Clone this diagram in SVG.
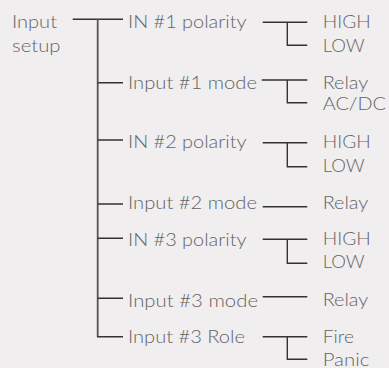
<svg xmlns="http://www.w3.org/2000/svg" width="389" height="368" viewBox="0 0 389 368">
<style>
text{font-family:Lato,"Open Sans","Liberation Sans",sans-serif;font-weight:300;font-size:18px;fill:#646464}
.c{fill:none;stroke:#333;stroke-width:1.4}
.t{fill:none;stroke:#555;stroke-width:1.8}
</style>
<rect width="389" height="368" fill="#f0eeef"/>
<g id="connectors">
<path class="c" d="M72.7 19.3H123"/>
<path class="t" d="M97.7 19.3V336.7"/>
<path class="c" d="M97.7 82.7H123M97.7 140H123M97.7 204H123M97.7 238.3H123M97.7 298.3H123M97 336.7H123"/>
<path class="c" d="M262.7 22.3H307.3M287.3 22.3V45.3H307.3"/>
<path class="c" d="M261.7 80H307.3M287.3 80V102.7H307.3"/>
<path class="c" d="M262.7 142.7H307.3M287.3 142.7V166.7H307.3"/>
<path class="c" d="M262.7 206.7H307.3"/>
<path class="c" d="M262.7 239.3H307.3M287.3 239.3V263.3H307.3"/>
<path class="c" d="M262.7 296.7H307.3"/>
<path class="c" d="M262.7 336.7H307.3M287.3 336.7V359.3H307.3"/>
</g>
<g id="root"><text x="12" y="28" textLength="45" lengthAdjust="spacingAndGlyphs">Input</text><text x="12" y="52" textLength="48.5" lengthAdjust="spacingAndGlyphs">setup</text></g>
<g id="in1pol"><text x="128" y="28" textLength="118.5" lengthAdjust="spacingAndGlyphs">IN #1 polarity</text></g>
<g id="in1mode"><text x="128" y="89" textLength="129" lengthAdjust="spacingAndGlyphs">Input #1 mode</text></g>
<g id="in2pol"><text x="128" y="148" textLength="118.5" lengthAdjust="spacingAndGlyphs">IN #2 polarity</text></g>
<g id="in2mode"><text x="128" y="209" textLength="129" lengthAdjust="spacingAndGlyphs">Input #2 mode</text></g>
<g id="in3pol"><text x="128" y="245.5" textLength="118.5" lengthAdjust="spacingAndGlyphs">IN #3 polarity</text></g>
<g id="in3mode"><text x="128" y="306.5" textLength="130" lengthAdjust="spacingAndGlyphs">Input #3 mode</text></g>
<g id="in3role"><text x="128" y="342.7" textLength="117" lengthAdjust="spacingAndGlyphs">Input #3 Role</text></g>
<g id="high1"><text x="322.7" y="28.3" textLength="48" lengthAdjust="spacingAndGlyphs">HIGH</text></g>
<g id="low1"><text x="322.7" y="51.7" textLength="42" lengthAdjust="spacingAndGlyphs">LOW</text></g>
<g id="relay1"><text x="322.7" y="89.3" textLength="45.6" lengthAdjust="spacingAndGlyphs">Relay</text></g>
<g id="acdc1"><text x="322.7" y="110" textLength="63.3" lengthAdjust="spacingAndGlyphs">AC/DC</text></g>
<g id="high2"><text x="322.7" y="148.3" textLength="48" lengthAdjust="spacingAndGlyphs">HIGH</text></g>
<g id="low2"><text x="322.7" y="172.3" textLength="42" lengthAdjust="spacingAndGlyphs">LOW</text></g>
<g id="relay2"><text x="322.7" y="209.3" textLength="45.6" lengthAdjust="spacingAndGlyphs">Relay</text></g>
<g id="high3"><text x="322.7" y="245" textLength="48" lengthAdjust="spacingAndGlyphs">HIGH</text></g>
<g id="low3"><text x="322.7" y="268.3" textLength="42" lengthAdjust="spacingAndGlyphs">LOW</text></g>
<g id="relay3"><text x="322.7" y="306" textLength="45.6" lengthAdjust="spacingAndGlyphs">Relay</text></g>
<g id="fire"><text x="322.7" y="342.7" textLength="31.3" lengthAdjust="spacingAndGlyphs">Fire</text></g>
<g id="panic"><text x="322.7" y="365.5" textLength="46.6" lengthAdjust="spacingAndGlyphs">Panic</text></g>
</svg>
